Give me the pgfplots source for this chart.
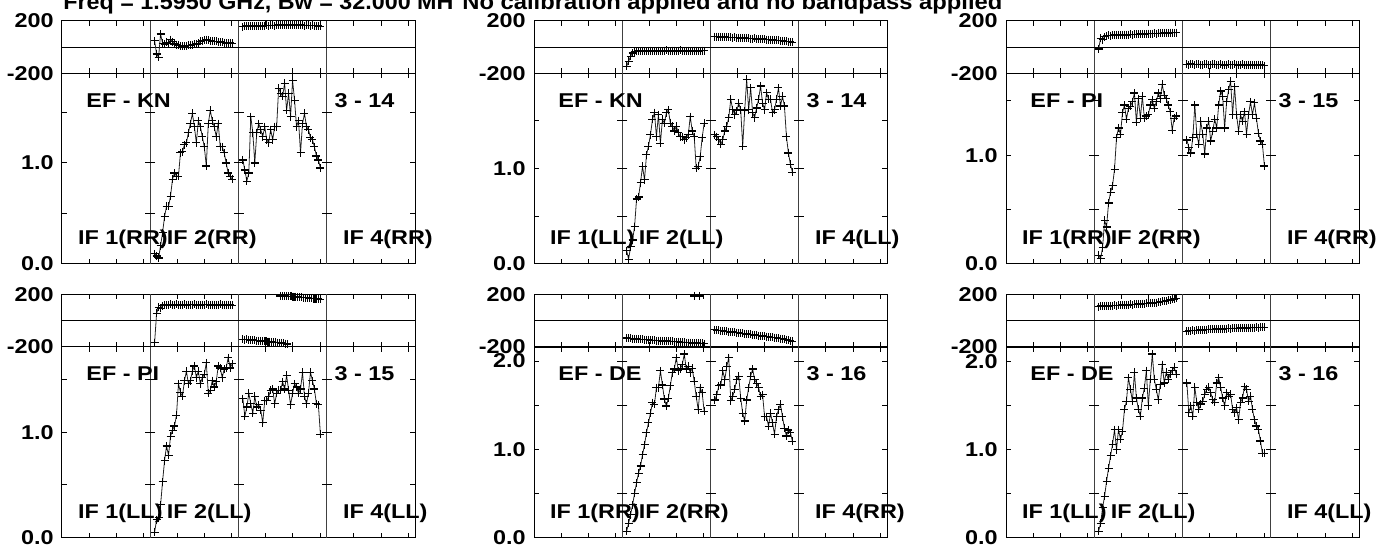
\documentclass[border=0pt]{standalone}
\usepackage{pgfplots}
\pgfplotsset{compat=1.18}
\usepackage{fontspec}
\setmainfont{Liberation Sans}
\newfontfamily\labfont{Liberation Sans}[FakeStretch=1.17]
\newfontfamily\titfont{Liberation Sans}[FakeStretch=1.08]
\newfontfamily\titfontb{Liberation Sans}[FakeStretch=1.06]
\newcommand\lf{\labfont\bfseries\fontsize{10}{12}\selectfont}
\newcommand\tf{\titfont\bfseries\fontsize{11}{13}\selectfont}
\newcommand\tfb{\titfontb\bfseries\fontsize{11}{13}\selectfont}
\tikzset{lab/.style={font=\lf, inner sep=0pt, anchor=west}}
\pgfplotsset{
 base/.style={scale only axis, width=176.5pt, xmin=0, xmax=129.6,
   xtick={10,20,30,42.4,52.4,62.4,74.8,84.8,94.8,107.2,117.2,127.2}, xticklabels={},
   tick align=inside, major tick length=2.5pt,
   tick style={black, line width=0.5pt},
   axis line style={black, line width=0.5pt},
   yticklabel style={font=\lf, inner sep=0pt, xshift=-4pt},
   clip=false},
 phase/.style={base, height=26.4pt, ymin=-200, ymax=200, ytick={-200,200}, yticklabels={-200,200}},
 amp/.style={base, height=95.25pt, ymin=0, ytick={0,0.5,1,1.5}, yticklabels={0.0,,1.0,}},
 dat/.style={black!85, line width=0.4pt, mark=+, mark size=2pt, mark options={black, line width=0.6pt}},
 zl/.style={black, line width=0.5pt, mark=none},
 sep/.style={black!75, line width=0.6pt, mark=none},
 cr/.style={only marks, black, mark=-, mark size=2.5pt, mark options={line width=0.5pt}},
}
\newcommand\ser[3]{\addplot[dat] table[header=false, row sep=\\, x expr={#1+#2*\coordindex}, y index=0] {#3};}
\newcommand\seps[2]{%
 \addplot[sep] coordinates {(32.4,#1) (32.4,#2)};
 \addplot[sep] coordinates {(64.8,#1) (64.8,#2)};
 \addplot[sep] coordinates {(97.2,#1) (97.2,#2)};}
\newcommand\labs[3]{%
 \node[lab, yshift=-13.5pt] at (rel axis cs:0.068,1) {#1};
 \node[lab, yshift=-13.5pt] at (rel axis cs:0.771,1) {#2};
 \node[lab, yshift=12.25pt] at (rel axis cs:0.0445,0) {IF 1(#3)};
 \node[lab, yshift=12.25pt] at (rel axis cs:0.296,0) {IF 2(#3)};
 \node[lab, yshift=12.25pt] at (rel axis cs:0.795,0) {IF 4(#3)};}
\begin{document}
\begin{tikzpicture}
\useasboundingbox (0,0) rectangle (696.5pt,276pt);
\node[anchor=base west, inner sep=0pt, font=\tfb] at (31.5pt,271.25pt) {Freq = 1.5950 GHz, Bw = 32.000 MH};
\node[anchor=base west, inner sep=0pt, font=\tf] at (231pt,271.25pt) {No calibration applied and no bandpass applied};

% ===== Panel 1 (row1 col1) =====
\begin{axis}[phase, at={(31pt,239.25pt)}, anchor=south west]
\seps{-200}{200}
\addplot[zl] coordinates {(0,0) (129.6,0)};
\ser{34.0}{0.73}{48\\-53\\-78\\99\\30\\23\\35\\30\\56\\40\\23\\18\\13\\10\\5\\8\\10\\13\\15\\18\\20\\23\\30\\43\\48\\50\\56\\52\\48\\45\\43\\43\\40\\38\\35\\33\\30\\30\\32\\30\\}
\ser{66.4}{0.73}{155\\158\\160\\157\\160\\162\\158\\160\\163\\161\\160\\163\\165\\162\\164\\166\\163\\165\\168\\166\\164\\167\\170\\168\\165\\167\\169\\166\\164\\167\\165\\163\\166\\164\\162\\165\\163\\161\\160\\158\\}
\end{axis}
\begin{axis}[amp, ymax=1.886, at={(31pt,144pt)}, anchor=south west]
\seps{0}{1.886}
\addplot[cr] coordinates {(32.4,0.5)(32.4,1)(32.4,1.5)(64.8,0.5)(64.8,1)(64.8,1.5)(97.2,0.5)(97.2,1)(97.2,1.5)};
\ser{34.0}{0.73}{0.10\\0.08\\0.06\\0.18\\0.31\\0.47\\0.57\\0.57\\0.67\\0.84\\0.90\\0.87\\0.87\\1.10\\1.11\\1.18\\1.20\\1.30\\1.39\\1.49\\1.36\\1.20\\1.42\\1.36\\1.26\\1.16\\0.97\\1.39\\1.52\\1.42\\1.36\\1.26\\1.39\\1.16\\1.16\\1.10\\1.00\\0.90\\0.87\\0.84\\}
\ser{66.4}{0.73}{1.03\\0.93\\0.82\\0.90\\1.46\\1.30\\1.00\\1.30\\1.39\\1.33\\1.26\\1.36\\1.23\\1.20\\1.33\\1.23\\1.36\\1.36\\1.74\\1.69\\1.66\\1.79\\1.52\\1.69\\1.46\\1.82\\1.62\\1.36\\1.42\\1.10\\1.39\\1.49\\1.36\\1.33\\1.25\\1.23\\1.16\\1.07\\1.03\\0.95\\}
\labs{EF - KN}{3 - 14}{RR}
\end{axis}

% ===== Panel 2 (row1 col2) =====
\begin{axis}[phase, at={(267pt,239.25pt)}, anchor=south west]
\seps{-200}{200}
\addplot[zl] coordinates {(0,0) (129.6,0)};
\ser{34.0}{0.73}{-145\\-108\\-70\\-45\\-35\\-32\\-30\\-33\\-28\\-30\\-32\\-29\\-27\\-30\\-31\\-28\\-26\\-29\\-30\\-27\\-25\\-28\\-30\\-27\\-26\\-29\\-27\\-25\\-28\\-30\\-27\\-26\\-29\\-28\\-26\\-27\\-29\\-28\\-27\\-28\\}
\ser{66.4}{0.73}{80\\78\\80\\77\\76\\78\\74\\75\\73\\72\\74\\70\\71\\69\\68\\70\\66\\67\\65\\64\\66\\62\\61\\60\\62\\58\\57\\56\\57\\54\\52\\53\\50\\48\\47\\45\\43\\42\\40\\36\\}
\end{axis}
\begin{axis}[amp, ymax=1.99, at={(267pt,144pt)}, anchor=south west]
\seps{0}{1.99}
\addplot[cr] coordinates {(32.4,0.5)(32.4,1)(32.4,1.5)(64.8,0.5)(64.8,1)(64.8,1.5)(97.2,0.5)(97.2,1)(97.2,1.5)};
\ser{34.0}{0.73}{0.14\\0.05\\0.18\\0.25\\0.39\\0.68\\0.70\\0.85\\1.02\\0.88\\1.14\\1.23\\1.35\\1.51\\1.58\\1.33\\1.56\\1.26\\1.51\\1.47\\1.58\\1.61\\1.47\\1.44\\1.39\\1.44\\1.37\\1.33\\1.33\\1.30\\1.32\\1.35\\1.54\\1.39\\1.33\\1.00\\1.02\\1.12\\1.32\\1.47\\}
\ser{66.4}{0.73}{1.35\\1.33\\1.30\\1.25\\1.30\\1.39\\1.44\\1.53\\1.72\\1.61\\1.56\\1.60\\1.68\\1.61\\1.23\\1.60\\1.93\\1.61\\1.84\\1.58\\1.53\\1.63\\1.72\\1.86\\1.68\\1.61\\1.79\\1.72\\1.72\\1.58\\1.61\\1.72\\1.84\\1.65\\1.75\\1.65\\1.33\\1.16\\1.04\\0.96\\}
\labs{EF - KN}{3 - 14}{LL}
\end{axis}

% ===== Panel 3 (row1 col3) =====
\begin{axis}[phase, at={(503pt,239.25pt)}, anchor=south west]
\seps{-200}{200}
\addplot[zl] coordinates {(0,0) (129.6,0)};
\ser{34.0}{0.73}{-15\\68\\55\\78\\85\\88\\86\\90\\92\\89\\91\\93\\90\\94\\92\\95\\96\\93\\97\\98\\96\\99\\100\\98\\101\\103\\100\\102\\104\\103\\105\\106\\104\\107\\108\\106\\109\\110\\108\\110\\}
\ser{66.4}{0.73}{-130\\-132\\-128\\-131\\-133\\-130\\-129\\-132\\-134\\-131\\-130\\-133\\-132\\-129\\-131\\-134\\-132\\-130\\-133\\-135\\-132\\-131\\-134\\-133\\-130\\-132\\-135\\-133\\-131\\-134\\-136\\-133\\-132\\-135\\-137\\-134\\-133\\-136\\-138\\-140\\}
\end{axis}
\begin{axis}[amp, ymax=1.75, at={(503pt,144pt)}, anchor=south west]
\seps{0}{1.75}
\addplot[cr] coordinates {(32.4,0.5)(32.4,1)(32.4,1.5)(64.8,0.5)(64.8,1)(64.8,1.5)(97.2,0.5)(97.2,1)(97.2,1.5)};
\ser{34.0}{0.73}{0.08\\0.05\\0.15\\0.40\\0.34\\0.56\\0.66\\0.72\\0.87\\1.16\\1.25\\1.19\\1.39\\1.46\\1.33\\1.43\\1.45\\1.49\\1.57\\1.30\\1.52\\1.34\\1.54\\1.34\\1.36\\1.37\\1.46\\1.51\\1.43\\1.49\\1.57\\1.52\\1.65\\1.55\\1.52\\1.46\\1.40\\1.23\\1.34\\1.36\\}
\ser{66.4}{0.73}{1.14\\1.07\\1.02\\1.16\\1.46\\1.19\\1.10\\1.31\\1.19\\1.01\\1.25\\1.31\\1.13\\1.22\\1.33\\1.25\\1.46\\1.59\\1.54\\1.25\\1.49\\1.60\\1.68\\1.37\\1.63\\1.37\\1.22\\1.37\\1.31\\1.40\\1.19\\1.37\\1.49\\1.37\\1.48\\1.34\\1.20\\1.13\\1.10\\0.90\\}
\labs{EF - PI}{3 - 15}{RR}
\end{axis}

% ===== Panel 4 (row2 col1) =====
\begin{axis}[phase, at={(31pt,102.5pt)}, anchor=south west]
\seps{-200}{200}
\addplot[zl] coordinates {(0,0) (129.6,0)};
\ser{34.0}{0.73}{-167\\56\\101\\94\\112\\119\\115\\120\\122\\118\\121\\123\\119\\117\\120\\122\\118\\121\\119\\120\\123\\118\\120\\117\\121\\119\\122\\120\\118\\121\\119\\117\\120\\122\\118\\119\\121\\118\\120\\117\\}
\ser{66.4}{0.709}{-142\\-144\\-143\\-146\\-148\\-147\\-150\\-152\\-151\\-154\\-156\\-155\\-158\\-160\\-159\\-162\\-164\\-163\\-166\\-168\\-170\\-172\\-174\\-177\\}
\ser{80.2}{0.768}{187\\186\\188\\184\\185\\183\\181\\182\\180\\178\\177\\175\\174\\172\\170\\169\\167\\165\\163\\160\\}
\end{axis}
\begin{axis}[amp, ymax=1.81, at={(31pt,7.25pt)}, anchor=south west]
\seps{0}{1.81}
\addplot[cr] coordinates {(32.4,0.5)(32.4,1)(32.4,1.5)(64.8,0.5)(64.8,1)(64.8,1.5)(97.2,0.5)(97.2,1)(97.2,1.5)};
\ser{34.0}{0.73}{0.05\\0.17\\0.19\\0.31\\0.53\\0.73\\0.87\\0.78\\0.96\\1.02\\1.06\\1.16\\1.46\\1.38\\1.34\\1.49\\1.58\\1.46\\1.49\\1.58\\1.63\\1.52\\1.58\\1.46\\1.52\\1.55\\1.66\\1.37\\1.40\\1.49\\1.43\\1.48\\1.63\\1.61\\1.52\\1.60\\1.61\\1.71\\1.61\\1.65\\}
\ser{66.4}{0.73}{1.32\\1.15\\1.24\\1.37\\1.27\\1.18\\1.34\\1.24\\1.26\\1.21\\1.09\\1.30\\1.30\\1.34\\1.40\\1.41\\1.27\\1.37\\1.40\\1.40\\1.48\\1.41\\1.54\\1.40\\1.26\\1.37\\1.46\\1.43\\1.37\\1.41\\1.57\\1.34\\1.27\\1.37\\1.57\\1.49\\1.41\\1.27\\1.26\\0.98\\}
\labs{EF - PI}{3 - 15}{LL}
\end{axis}

% ===== Panel 5 (row2 col2) =====
\begin{axis}[phase, at={(267pt,102.5pt)}, anchor=south west]
\seps{-200}{200}
\addplot[zl] coordinates {(0,0) (129.6,0)};
\ser{34.0}{0.73}{-132\\-135\\-134\\-137\\-139\\-138\\-141\\-143\\-142\\-145\\-146\\-145\\-148\\-149\\-148\\-151\\-152\\-151\\-154\\-155\\-154\\-157\\-158\\-157\\-160\\-161\\-160\\-163\\-164\\-163\\-166\\-167\\-166\\-169\\-170\\-169\\-172\\-173\\-172\\-175\\}
\addplot[dat] coordinates {(58.9,187) (60.9,187)};
\ser{66.4}{0.73}{-70\\-72\\-73\\-76\\-77\\-80\\-81\\-83\\-86\\-87\\-89\\-92\\-93\\-95\\-97\\-99\\-101\\-103\\-105\\-107\\-109\\-111\\-113\\-115\\-117\\-119\\-121\\-123\\-125\\-127\\-129\\-131\\-134\\-136\\-138\\-141\\-144\\-148\\-152\\-158\\}
\end{axis}
\begin{axis}[amp, ymax=2.16, extra y ticks={2}, extra y tick labels={2.0}, at={(267pt,7.25pt)}, anchor=south west]
\seps{0}{2.16}
\addplot[cr] coordinates {(32.4,0.5)(32.4,1)(32.4,1.5)(32.4,2)(64.8,0.5)(64.8,1)(64.8,1.5)(64.8,2)(97.2,0.5)(97.2,1)(97.2,1.5)(97.2,2)};
\ser{34.0}{0.73}{0.07\\0.16\\0.26\\0.37\\0.50\\0.62\\0.73\\0.81\\0.94\\1.05\\1.19\\1.30\\1.41\\1.53\\1.51\\1.70\\1.70\\1.89\\1.73\\1.57\\1.49\\1.58\\1.72\\1.87\\1.91\\2.04\\1.89\\1.91\\1.96\\2.08\\1.91\\1.94\\1.87\\1.92\\1.77\\1.60\\1.45\\1.70\\1.64\\1.43\\}
\ser{66.4}{0.73}{1.56\\1.62\\1.72\\1.73\\1.89\\1.79\\1.94\\2.04\\1.55\\1.60\\1.68\\1.79\\1.83\\1.58\\1.41\\1.32\\1.56\\1.70\\1.83\\1.91\\1.79\\1.75\\1.70\\1.60\\1.62\\1.37\\1.37\\1.26\\1.41\\1.30\\1.17\\1.37\\1.45\\1.51\\1.37\\1.24\\1.15\\1.22\\1.19\\1.09\\}
\labs{EF - DE}{3 - 16}{RR}
\end{axis}

% ===== Panel 6 (row2 col3) =====
\begin{axis}[phase, at={(503pt,102.5pt)}, anchor=south west]
\seps{-200}{200}
\addplot[zl] coordinates {(0,0) (129.6,0)};
\ser{34.0}{0.73}{105\\112\\110\\108\\113\\111\\114\\112\\116\\114\\117\\115\\118\\116\\120\\118\\122\\120\\124\\122\\126\\125\\128\\127\\131\\130\\134\\133\\137\\136\\140\\142\\145\\147\\150\\153\\156\\160\\164\\168\\}
\ser{66.4}{0.73}{-80\\-76\\-78\\-74\\-75\\-72\\-73\\-70\\-71\\-68\\-69\\-66\\-67\\-65\\-66\\-63\\-64\\-62\\-63\\-60\\-61\\-59\\-60\\-58\\-59\\-57\\-58\\-56\\-57\\-55\\-56\\-54\\-55\\-53\\-54\\-52\\-53\\-51\\-52\\-50\\}
\end{axis}
\begin{axis}[amp, ymax=2.17, ytick={0,0.5,1,1.5,2}, yticklabels={0.0,,1.0,,}, at={(503pt,7.25pt)}, anchor=south west]
\seps{0}{2.17}
\node[lab, anchor=east, xshift=-4pt] at (axis cs:0,2) {2.0};
\addplot[cr] coordinates {(32.4,0.5)(32.4,1)(32.4,1.5)(32.4,2)(64.8,0.5)(64.8,1)(64.8,1.5)(64.8,2)(97.2,0.5)(97.2,1)(97.2,1.5)(97.2,2)};
\ser{34.0}{0.73}{0.07\\0.16\\0.34\\0.47\\0.64\\0.79\\0.93\\1.06\\1.23\\1.00\\1.23\\1.12\\1.21\\1.46\\1.55\\1.82\\1.69\\1.55\\1.88\\1.59\\1.46\\1.38\\1.59\\1.70\\1.90\\1.50\\1.80\\2.09\\1.80\\1.69\\1.57\\1.74\\1.97\\1.76\\1.88\\1.80\\1.86\\1.90\\1.94\\1.86\\}
\ser{66.4}{0.73}{1.76\\1.42\\1.50\\1.38\\1.71\\1.54\\1.46\\1.52\\1.55\\1.63\\1.69\\1.71\\1.65\\1.57\\1.54\\1.76\\1.82\\1.71\\1.59\\1.50\\1.65\\1.61\\1.63\\1.46\\1.42\\1.48\\1.34\\1.54\\1.59\\1.72\\1.69\\1.55\\1.61\\1.46\\1.34\\1.27\\1.23\\1.10\\0.96\\0.96\\}
\labs{EF - DE}{3 - 16}{LL}
\end{axis}
\end{tikzpicture}
\end{document}
